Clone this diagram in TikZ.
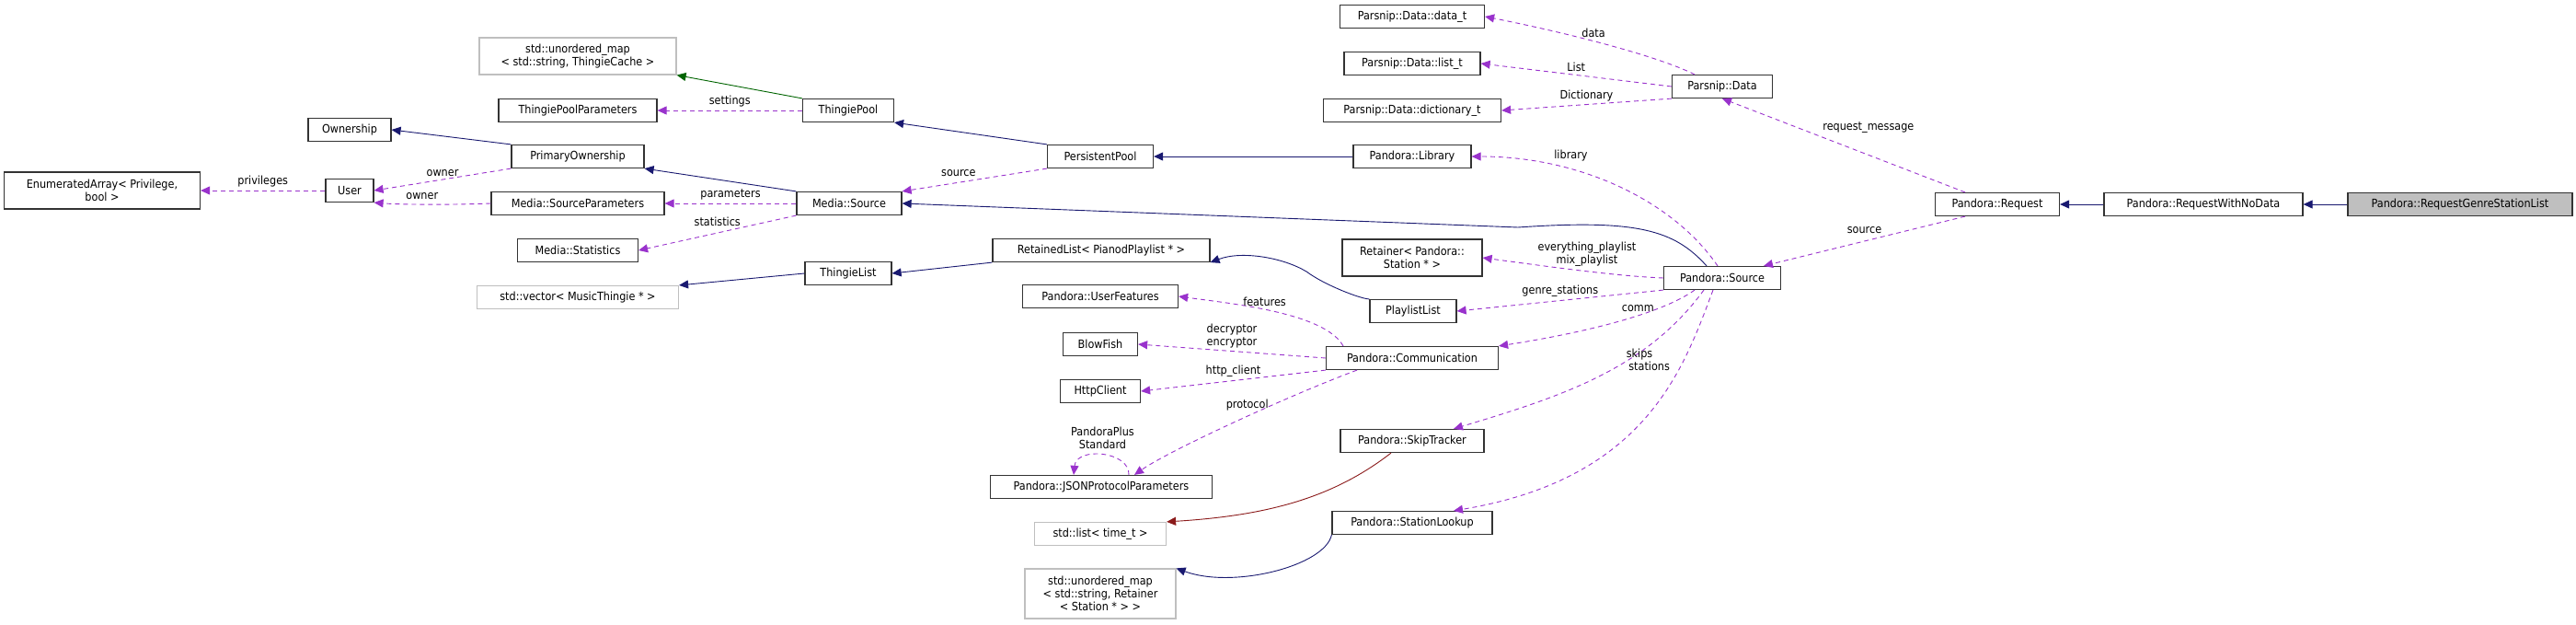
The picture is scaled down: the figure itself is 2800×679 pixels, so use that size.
\documentclass[tikz,border=0pt]{standalone}
\usepackage{fontspec}
\setmainfont{DejaVu Sans Condensed}
\usetikzlibrary{arrows.meta,positioning}
\definecolor{inhblue}{RGB}{25,25,112}
\definecolor{usepurple}{RGB}{153,50,204}
\definecolor{tmplgreen}{RGB}{0,100,0}
\definecolor{tmplred}{RGB}{139,26,26}
\definecolor{extgray}{RGB}{191,191,191}
\tikzset{
  cls/.style={draw=black!80, line width=1.2pt, fill=white, inner sep=2pt, minimum height=25pt, align=center},
  ext/.style={cls, draw=extgray},
  here/.style={cls, fill=extgray},
  inh/.style={-{Triangle[length=10pt,width=9pt,fill=inhblue]}, draw=inhblue, line width=0.9pt},
  uses/.style={-{Triangle[length=10pt,width=9pt,fill=usepurple]}, draw=usepurple, line width=0.9pt, dash pattern=on 5pt off 4pt},
  tmpl/.style={-{Triangle[length=10pt,width=9pt,fill=tmplgreen]}, draw=tmplgreen, line width=0.9pt},
  tmplr/.style={-{Triangle[length=10pt,width=9pt,fill=tmplred]}, draw=tmplred, line width=0.9pt},
  lbl/.style={font=\fontsize{12.5}{14}\selectfont, align=center}
}
\begin{document}
\begin{tikzpicture}[x=1pt,y=-1pt]
\tikzstyle{every node}=[font=\fontsize{12.5}{14}\selectfont]
\useasboundingbox (0,0) rectangle (2800,679);
% left column
\node [ext, minimum width=214pt, minimum height=40pt] (thingieCache) at (628,61) {std::unordered\_map\\< std::string, ThingieCache >};
\node [cls, minimum width=172pt] (poolParams) at (628,120) {ThingiePoolParameters};
\node [cls, minimum width=90pt] (ownership) at (380,141) {Ownership};
\node [cls, minimum width=144pt] (primaryOwn) at (628,170) {PrimaryOwnership};
\node [cls, minimum width=213pt, minimum height=40pt] (enumArray) at (111,207) {EnumeratedArray< Privilege,\\bool >};
\node [cls, minimum width=52pt] (user) at (380,207) {User};
\node [cls, minimum width=188pt] (srcParams) at (628,221) {Media::SourceParameters};
\node [cls, minimum width=131pt] (statistics) at (628,272) {Media::Statistics};
\node [ext, minimum width=219pt] (musicVector) at (628,323) {std::vector< MusicThingie * >};
% middle columns
\node [cls, minimum width=99pt] (thingiePool) at (922,120) {ThingiePool};
\node [cls, minimum width=114pt] (mediaSource) at (923,221) {Media::Source};
\node [cls, minimum width=94pt] (thingieList) at (922,297) {ThingieList};
\node [cls, minimum width=115pt] (persistentPool) at (1196,170) {PersistentPool};
\node [cls, minimum width=236pt] (retainedList) at (1197,272) {RetainedList< PianodPlaylist * >};
\node [cls, minimum width=169pt] (userFeatures) at (1196,322) {Pandora::UserFeatures};
\node [cls, minimum width=81pt] (blowFish) at (1196,374) {BlowFish};
\node [cls, minimum width=87pt] (httpClient) at (1196,425) {HttpClient};
\node [cls, minimum width=241pt] (jsonParams) at (1197,529) {Pandora::JSONProtocolParameters};
\node [ext, minimum width=143pt] (timeList) at (1196,580) {std::list< time\_t >};
\node [ext, minimum width=164pt, minimum height=54pt] (stationMap) at (1196,645) {std::unordered\_map\\< std::string, Retainer\\< Station * > >};
\node [cls, minimum width=157pt] (dataT) at (1535,18) {Parsnip::Data::data\_t};
\node [cls, minimum width=148pt] (listT) at (1535,69) {Parsnip::Data::list\_t};
\node [cls, minimum width=193pt] (dictT) at (1535,120) {Parsnip::Data::dictionary\_t};
\node [cls, minimum width=128pt] (library) at (1535,170) {Pandora::Library};
\node [cls, minimum width=152pt, minimum height=40pt] (retainer) at (1535,280) {Retainer< Pandora::\\Station * >};
\node [cls, minimum width=94pt] (playlistList) at (1536,338) {PlaylistList};
\node [cls, minimum width=187pt] (comm) at (1535,389) {Pandora::Communication};
\node [cls, minimum width=156pt] (skipTracker) at (1535,479) {Pandora::SkipTracker};
\node [cls, minimum width=174pt] (stationLookup) at (1535,568) {Pandora::StationLookup};
% right part
\node [cls, minimum width=109pt] (parsnipData) at (1872,94) {Parsnip::Data};
\node [cls, minimum width=127pt] (pandoraSource) at (1872,302) {Pandora::Source};
\node [cls, minimum width=135pt] (request) at (2171,222) {Pandora::Request};
\node [cls, minimum width=216pt] (reqNoData) at (2395,222) {Pandora::RequestWithNoData};
\node [here, minimum width=244pt] (reqGenre) at (2674,222) {Pandora::RequestGenreStationList};
% inheritance
\draw [inh] (reqGenre) -- (reqNoData);
\draw [inh] (reqNoData) -- (request);
\draw [inh] (primaryOwn.north west) -- (ownership.east);
\draw [inh] (mediaSource.north west) -- (primaryOwn.south east);
\draw [inh] (persistentPool.north west) -- (thingiePool.south east);
\draw [inh] (library) -- (persistentPool);
\draw [inh] (thingieList.west) -- (musicVector.north east);
\draw [inh] (retainedList.south west) -- (thingieList.east);
\draw [inh] (playlistList.north west) .. controls (1480,325) and (1440,310) .. (1420,295) .. controls (1395,280) and (1350,272) .. (retainedList.south east);
\draw [inh] ([xshift=-17pt]pandoraSource.north) .. controls (1820,250) and (1780,238) .. (1650,247) -- (mediaSource.east);
\draw [inh] (stationLookup.south west) .. controls (1440,615) and (1340,640) .. (stationMap.north east);
\draw [tmpl] (thingiePool.north west) -- (thingieCache.south east);
\draw [tmplr] ([xshift=-23pt]skipTracker.south) .. controls (1450,540) and (1380,560) .. (timeList.north east);
% members
\draw [uses] (thingiePool.west) -- node [lbl, above] {settings} (poolParams.east);
\draw [uses] (primaryOwn.south west) -- node [lbl, above] {owner} (user.east);
\draw [uses] (srcParams.west) .. controls (480,223) and (430,222) .. node [lbl, above=2pt] {owner} (user.south east);
\draw [uses] (user.west) -- node [lbl, above] {privileges} (enumArray.east);
\draw [uses] (mediaSource.west) -- node [lbl, above] {parameters} (srcParams.east);
\draw [uses] (mediaSource.south west) -- node [lbl, above=4pt] {statistics} (statistics.east);
\draw [uses] (persistentPool.south west) -- node [lbl, above left=0pt and -5pt] {source} (mediaSource.north east);
\draw [uses] ([xshift=-5pt]pandoraSource.north) .. controls (1820,220) and (1720,170) .. node [lbl, pos=0.75, above right=0pt and 0pt] {library} (library.east);
\draw [uses] (pandoraSource.west) .. controls (1760,300) and (1700,292) .. node [lbl, above=2pt] {everything\_playlist\\mix\_playlist} (retainer.east);
\draw [uses] (pandoraSource.south west) -- node [lbl, above] {genre\_stations} (playlistList.east);
\draw [uses] ([xshift=-30pt]pandoraSource.south) .. controls (1800,345) and (1700,365) .. node [lbl, pos=0.35, above] {comm} (comm.north east);
\draw [uses] ([xshift=-20pt]pandoraSource.south) .. controls (1790,400) and (1700,430) .. node [lbl, pos=0.4, above right] {skips} ([xshift=45pt]skipTracker.north);
\draw [uses] ([xshift=-10pt]pandoraSource.south) .. controls (1830,400) and (1790,520) .. node [lbl, pos=0.3, left=8pt] {stations} ([xshift=45pt]stationLookup.north);
\draw [uses] ([xshift=-75pt]comm.north) .. controls (1440,340) and (1340,330) .. node [lbl, pos=0.55, above] {features} (userFeatures.east);
\draw [uses] (comm.west) -- node [lbl, above] {decryptor\\encryptor} (blowFish.east);
\draw [uses] (comm.south west) -- node [lbl, above] {http\_client} (httpClient.east);
\draw [uses] ([xshift=-60pt]comm.south) .. controls (1400,430) and (1270,490) .. node [lbl, pos=0.35, left] {protocol} ([xshift=36pt]jsonParams.north);
\draw [uses] ([xshift=30pt]jsonParams.north) .. controls (1228,490) and (1170,485) .. node [lbl, above=3pt] {PandoraPlus\\Standard} ([xshift=-30pt]jsonParams.north);
\draw [uses] ([xshift=-30pt]parsnipData.north) .. controls (1800,60) and (1700,35) .. node [lbl, pos=0.55, above] {data} (dataT.east);
\draw [uses] (parsnipData.west) -- node [lbl, above] {List} (listT.east);
\draw [uses] (parsnipData.south west) -- node [lbl, above] {Dictionary} (dictT.east);
\draw [uses] ([xshift=-35pt]request.north) -- node [lbl, pos=0.6, above right] {request\_message} ([xshift=0pt]parsnipData.south);
\draw [uses] ([xshift=-35pt]request.south) -- node [lbl, above=5pt] {source} ([xshift=45pt]pandoraSource.north);
\end{tikzpicture}
\end{document}
